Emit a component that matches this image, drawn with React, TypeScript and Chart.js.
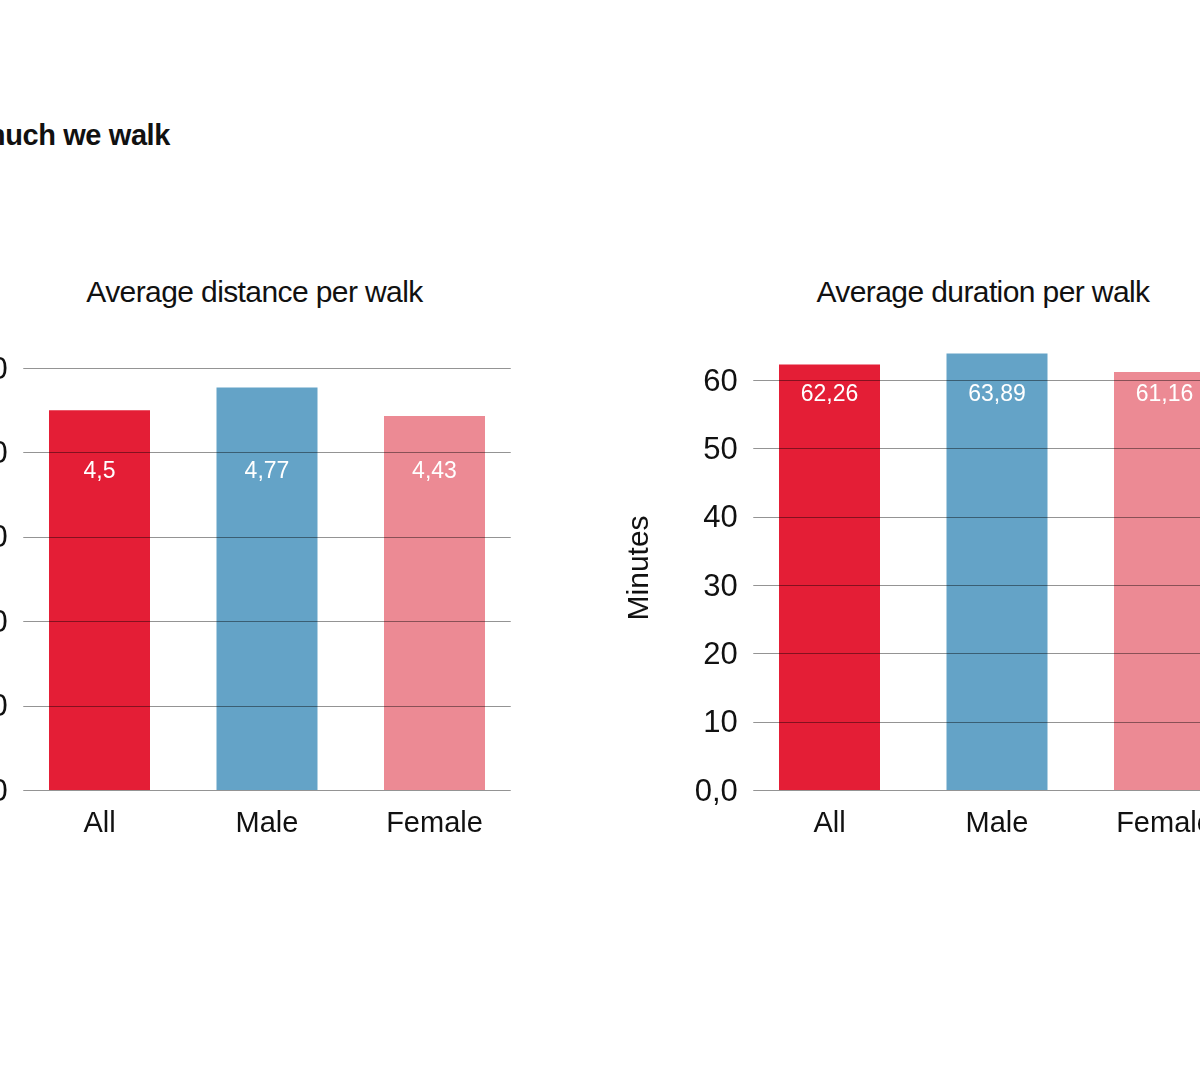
import React, { useEffect, useRef } from "react";
import { Chart, registerables } from "chart.js";

Chart.register(...registerables);

// ---- data ----
const categories = ["All", "Male", "Female"];
const distanceValues = [4.5, 4.77, 4.43];
const durationValues = [62.26, 63.89, 61.16];
const barColors = ["#E41E36", "#64A3C7", "#EC8A94"];
const distanceTitle = "Average distance per walk";
const durationTitle = "Average duration per walk";
const pageTitle = "How much we walk";
const distanceAxisTitle = "Kilometers";
const durationAxisTitle = "Minutes";

const FONT = "'Liberation Sans', Arial, Helvetica, sans-serif";

const overlayPlugin = {
  id: "overlay",
  afterDatasetsDraw(chart: any, _args: any, opts: any) {
    const { ctx, chartArea, scales } = chart;
    const y = scales.y;
    const x = scales.x;
    ctx.save();
    ctx.strokeStyle = "rgba(0,0,0,0.42)";
    ctx.lineWidth = 1;
    y.ticks.forEach((t: any) => {
      const py = Math.round(y.getPixelForValue(t.value)) + 0.5;
      ctx.beginPath();
      ctx.moveTo(chartArea.left + opts.inset, py);
      ctx.lineTo(chartArea.right - opts.inset, py);
      ctx.stroke();
    });
    // value labels
    ctx.fillStyle = "#ffffff";
    ctx.font = `23px ${FONT}`;
    ctx.textAlign = "center";
    ctx.textBaseline = "middle";
    const values = chart.data.datasets[0].data as number[];
    const ly = y.getPixelForValue(opts.labelAnchor) + opts.labelOffset;
    values.forEach((v: number, i: number) => {
      const px = x.getPixelForValue(i);
      ctx.fillText(String(v).replace(".", ","), px, ly);
    });
    ctx.restore();
  },
};

type Cfg = {
  values: number[];
  max: number;
  step: number;
  padTop: number;
  labelAnchor: number;
  labelOffset: number;
  axisTitle: string;
  fmt: (v: number) => string;
};

function BarChart({ cfg, left }: { cfg: Cfg; left: number }) {
  const ref = useRef<HTMLCanvasElement | null>(null);
  useEffect(() => {
    if (!ref.current) return;
    const chart = new Chart(ref.current, {
      type: "bar",
      data: {
        labels: categories,
        datasets: [
          {
            data: cfg.values,
            backgroundColor: barColors,
            borderWidth: 0,
            barPercentage: 0.603,
            categoryPercentage: 1,
          },
        ],
      },
      options: {
        animation: false,
        responsive: true,
        maintainAspectRatio: false,
        layout: { padding: { top: cfg.padTop, right: 51.75, bottom: 0, left: 0 } },
        plugins: {
          legend: { display: false },
          tooltip: { enabled: false },
          title: { display: false },
          overlay: { inset: 7.5, labelAnchor: cfg.labelAnchor, labelOffset: cfg.labelOffset },
        } as any,
        scales: {
          x: {
            grid: { display: false },
            border: { display: false },
            ticks: {
              color: "#111",
              font: { family: FONT, size: 29 },
              padding: 9,
            },
            afterFit: (s: any) => {
              s.height = 60;
            },
          },
          y: {
            min: 0,
            max: cfg.max,
            grid: { display: false, drawTicks: false },
            border: { display: false },
            ticks: {
              stepSize: cfg.step,
              includeBounds: false,
              color: "#111",
              font: { family: FONT, size: 31 },
              padding: 8,
              labelOffset: 2,
              callback: (v: any) => cfg.fmt(Number(v)),
            },
            title: {
              display: true,
              text: cfg.axisTitle,
              color: "#111",
              font: { family: FONT, size: 30 },
              padding: { top: 22, bottom: 4 },
            },
            afterFit: (s: any) => {
              s.width = 145.75;
            },
          },
        },
      },
      plugins: [overlayPlugin as any],
    });
    return () => chart.destroy();
  }, []);
  return (
    <div style={{ position: "absolute", left, top: 300, width: 700, height: 550 }}>
      <canvas ref={ref} />
    </div>
  );
}

const distanceCfg: Cfg = {
  values: distanceValues,
  max: 5,
  step: 1,
  padTop: 68,
  labelAnchor: 4,
  labelOffset: 19,
  axisTitle: distanceAxisTitle,
  fmt: (v) => v.toFixed(1).replace(".", ","),
};

const durationCfg: Cfg = {
  values: durationValues,
  max: 65,
  step: 10,
  padTop: 45.8,
  labelAnchor: 60,
  labelOffset: 15,
  axisTitle: durationAxisTitle,
  fmt: (v) => (v === 0 ? "0,0" : String(v)),
};

const titleStyle: React.CSSProperties = {
  position: "absolute",
  top: 275.5,
  width: 500,
  textAlign: "center",
  fontFamily: FONT,
  fontSize: 30,
  lineHeight: "32px",
  color: "#111",
  whiteSpace: "nowrap",
  letterSpacing: "-0.6px",
};

export default function App() {
  return (
    <div
      style={{
        position: "fixed",
        left: 0,
        top: 0,
        width: 1200,
        height: 1083,
        overflow: "hidden",
        background: "#fff",
      }}
    >
      <div
        style={{
          position: "absolute",
          right: 1200 - 170,
          top: 120,
          fontFamily: FONT,
          fontWeight: 700,
          fontSize: 29,
          lineHeight: "30px",
          color: "#111",
          whiteSpace: "nowrap",
          letterSpacing: "-0.4px",
        }}
      >
        {pageTitle}
      </div>
      <div style={{ ...titleStyle, left: 254.5 - 250 }}>{distanceTitle}</div>
      <div style={{ ...titleStyle, left: 983 - 250 }}>{durationTitle}</div>
      <BarChart cfg={distanceCfg} left={-130} />
      <BarChart cfg={durationCfg} left={600} />
    </div>
  );
}
